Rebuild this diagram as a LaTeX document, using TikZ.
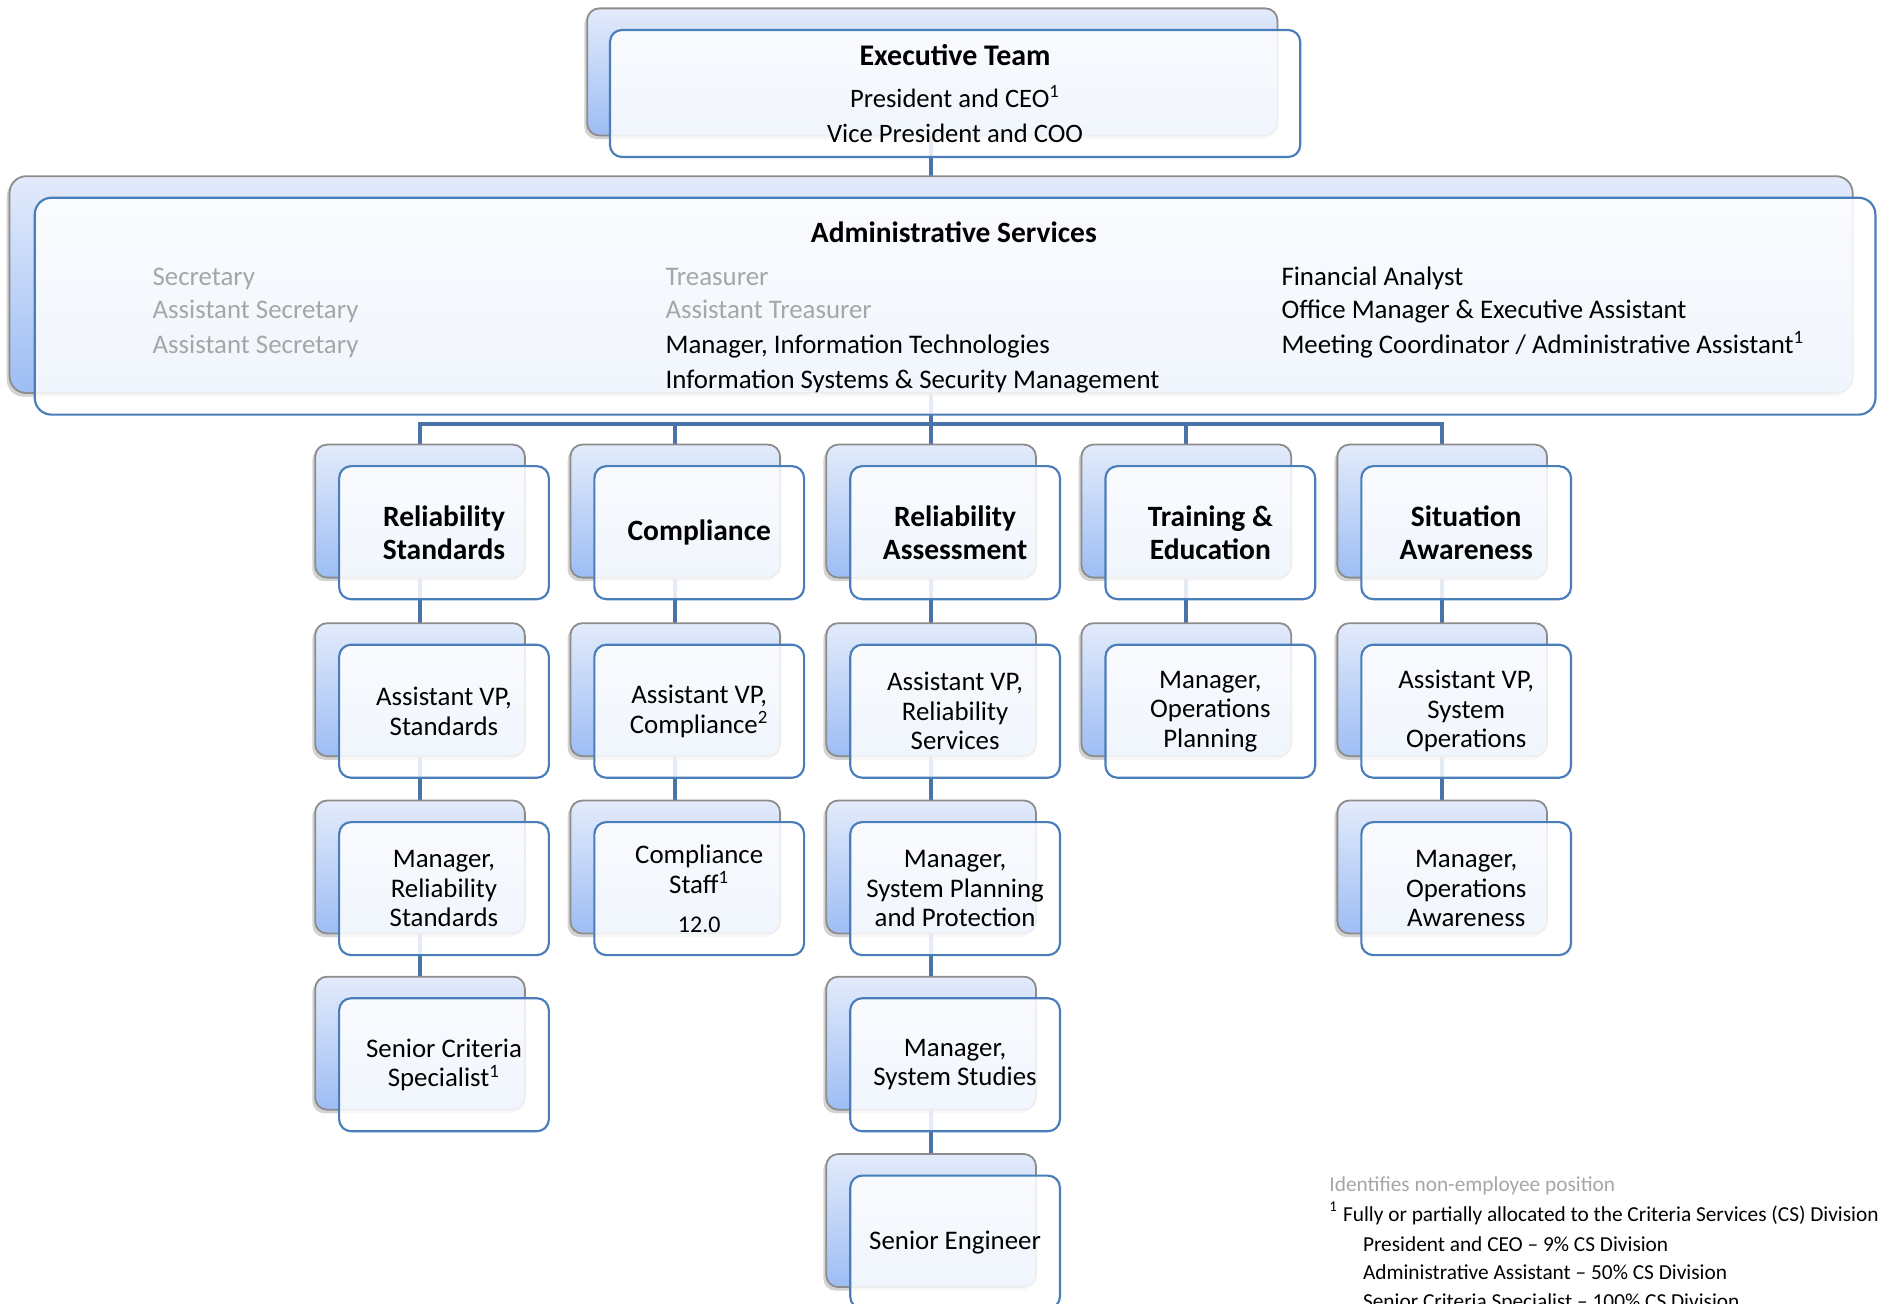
\documentclass[tikz,border=0pt]{standalone}
\usepackage{fontspec}
\setmainfont{Carlito}
\usetikzlibrary{positioning,shadows,backgrounds}
\definecolor{frontline}{HTML}{4A7EBB}
\definecolor{backline}{HTML}{8C8C8C}
\definecolor{backtop}{HTML}{E3EBFB}
\definecolor{backbot}{HTML}{9DBDF4}
\definecolor{conncol}{HTML}{4A73A8}
\definecolor{nonemp}{HTML}{A6A6A6}
\tikzset{
  backbox/.style={draw=backline, line width=0.75pt, rounded corners=5pt,
    top color=backtop, bottom color=backbot, inner sep=0pt,
    minimum width=87.5pt, minimum height=55.5pt,
    drop shadow={shadow xshift=-1.2pt, shadow yshift=-1.5pt, opacity=0.35}},
  frontbox/.style={draw=frontline, line width=0.9pt, rounded corners=5pt,
    fill=white, fill opacity=0.86, text opacity=1, inner sep=0pt,
    minimum width=87.5pt, minimum height=55.5pt, align=center,
    font=\fontsize{11.2}{12.3}\selectfont},
  head/.style={font=\fontsize{12.3}{13.5}\selectfont\bfseries},
  conn/.style={draw=conncol, line width=1.6pt},
  admintext/.style={anchor=base west, inner sep=0pt, font=\fontsize{11.2}{12}\selectfont},
  legendtext/.style={anchor=base west, inner sep=0pt, font=\fontsize{8.9}{10}\selectfont},
}
\begin{document}
\begin{tikzpicture}[x=0.5pt,y=-0.5pt]
  \useasboundingbox (0,0) rectangle (1568,1088);
  \clip (0,0) rectangle (1568,1088);
  % executive team
  \node[backbox, minimum width=288pt, minimum height=53pt] (eb) at (778,60) {};
  \node[frontbox, minimum width=288pt, minimum height=53pt, font=\fontsize{11.1}{14.5}\selectfont]
    (ef) at ([shift={(19,18)}]eb.center)
    {{\fontsize{12.5}{14}\selectfont\bfseries Executive Team}\\[3pt]
     President and CEO\textsuperscript{1}\\Vice President and COO};
  % administrative services
  \node[backbox, minimum width=769pt, minimum height=90.5pt, rounded corners=7pt] (ab) at (777,237.5) {};
  \node[frontbox, minimum width=768pt, minimum height=90.5pt, rounded corners=7pt]
    (af) at ([shift={(20,18)}]ab.center) {};
  \node[head] (atitle) at (796,194) {Administrative Services};
  \node[admintext, text=nonemp] (a11) at (127,238) {Secretary};
  \node[admintext, text=nonemp] (a12) at (127,266) {Assistant Secretary};
  \node[admintext, text=nonemp] (a13) at (127,295) {Assistant Secretary};
  \node[admintext, text=nonemp] (a21) at (555,238) {Treasurer};
  \node[admintext, text=nonemp] (a22) at (555,266) {Assistant Treasurer};
  \node[admintext] (a23) at (555,295) {Manager, Information Technologies};
  \node[admintext] (a24) at (555,324) {Information Systems \& Security Management};
  \node[admintext] (a31) at (1069,238) {Financial Analyst};
  \node[admintext] (a32) at (1069,266) {Office Manager \& Executive Assistant};
  \node[admintext] (a33) at (1069,295) {Meeting Coordinator / Administrative Assistant\textsuperscript{1}};
  % departments
  \foreach \c/\x in {1/350.5,2/563.5,3/777,4/990,5/1203.5}
    \foreach \r/\y in {1/426.5,2/575.5,3/723.5,4/870.5,5/1018.5}
      \coordinate (p\c\r) at (\x,\y);
  \node[backbox] (b11) at (p11) {};
  \node[frontbox, head] (f11) at ([shift={(20,18)}]b11.center) {Reliability\\Standards};
  \node[backbox] (b12) at (p12) {};
  \node[frontbox] (f12) at ([shift={(20,18)}]b12.center) {Assistant VP,\\Standards};
  \node[backbox] (b13) at (p13) {};
  \node[frontbox] (f13) at ([shift={(20,18)}]b13.center) {Manager,\\Reliability\\Standards};
  \node[backbox] (b14) at (p14) {};
  \node[frontbox] (f14) at ([shift={(20,18)}]b14.center) {Senior Criteria\\Specialist\textsuperscript{1}};
  \node[backbox] (b21) at (p21) {};
  \node[frontbox, head] (f21) at ([shift={(20,18)}]b21.center) {Compliance};
  \node[backbox] (b22) at (p22) {};
  \node[frontbox] (f22) at ([shift={(20,18)}]b22.center) {Assistant VP,\\Compliance\textsuperscript{2}};
  \node[backbox] (b23) at (p23) {};
  \node[frontbox] (f23) at ([shift={(20,18)}]b23.center)
    {Compliance\\Staff\textsuperscript{1}\\[4pt]{\fontsize{10}{11}\selectfont 12.0}};
  \node[backbox] (b31) at (p31) {};
  \node[frontbox, head] (f31) at ([shift={(20,18)}]b31.center) {Reliability\\Assessment};
  \node[backbox] (b32) at (p32) {};
  \node[frontbox] (f32) at ([shift={(20,18)}]b32.center) {Assistant VP,\\Reliability\\Services};
  \node[backbox] (b33) at (p33) {};
  \node[frontbox] (f33) at ([shift={(20,18)}]b33.center) {Manager,\\System Planning\\and Protection};
  \node[backbox] (b34) at (p34) {};
  \node[frontbox] (f34) at ([shift={(20,18)}]b34.center) {Manager,\\System Studies};
  \node[backbox] (b35) at (p35) {};
  \node[frontbox] (f35) at ([shift={(20,18)}]b35.center) {Senior Engineer};
  \node[backbox] (b41) at (p41) {};
  \node[frontbox, head] (f41) at ([shift={(20,18)}]b41.center) {Training \&\\Education};
  \node[backbox] (b42) at (p42) {};
  \node[frontbox] (f42) at ([shift={(20,18)}]b42.center) {Manager,\\Operations\\Planning};
  \node[backbox] (b51) at (p51) {};
  \node[frontbox, head] (f51) at ([shift={(20,18)}]b51.center) {Situation\\Awareness};
  \node[backbox] (b52) at (p52) {};
  \node[frontbox] (f52) at ([shift={(20,18)}]b52.center) {Assistant VP,\\System\\Operations};
  \node[backbox] (b53) at (p53) {};
  \node[frontbox] (f53) at ([shift={(20,18)}]b53.center) {Manager,\\Operations\\Awareness};
  % connectors, behind the boxes
  \coordinate (bus) at (777,354);
  \begin{scope}[on background layer]
    \draw[conn] (ab.center |- eb.center) -- (ab.center);
    \draw[conn] (ab.center) -- (bus);
    \foreach \c in {1,...,5}
      \draw[conn] (bus) -| (b\c1.center);
    \draw[conn] (b11.center) -- (b12.center) -- (b13.center) -- (b14.center);
    \draw[conn] (b21.center) -- (b22.center) -- (b23.center);
    \draw[conn] (b31.center) -- (b32.center) -- (b33.center) -- (b34.center) -- (b35.center);
    \draw[conn] (b41.center) -- (b42.center);
    \draw[conn] (b51.center) -- (b52.center) -- (b53.center);
  \end{scope}
  % legend
  \node[legendtext, text=nonemp] (lg0) at (1109,994) {Identifies non-employee position};
  \node[legendtext] (lg1) at (1109,1019) {\textsuperscript{1} Fully or partially allocated to the Criteria Services (CS) Division};
  \node[legendtext] (lg2) at (1137,1044) {President and CEO -- 9\% CS Division};
  \node[legendtext] (lg3) at (1137,1068) {Administrative Assistant -- 50\% CS Division};
  \node[legendtext] (lg4) at (1137,1092) {Senior Criteria Specialist -- 100\% CS Division};
\end{tikzpicture}
\end{document}
